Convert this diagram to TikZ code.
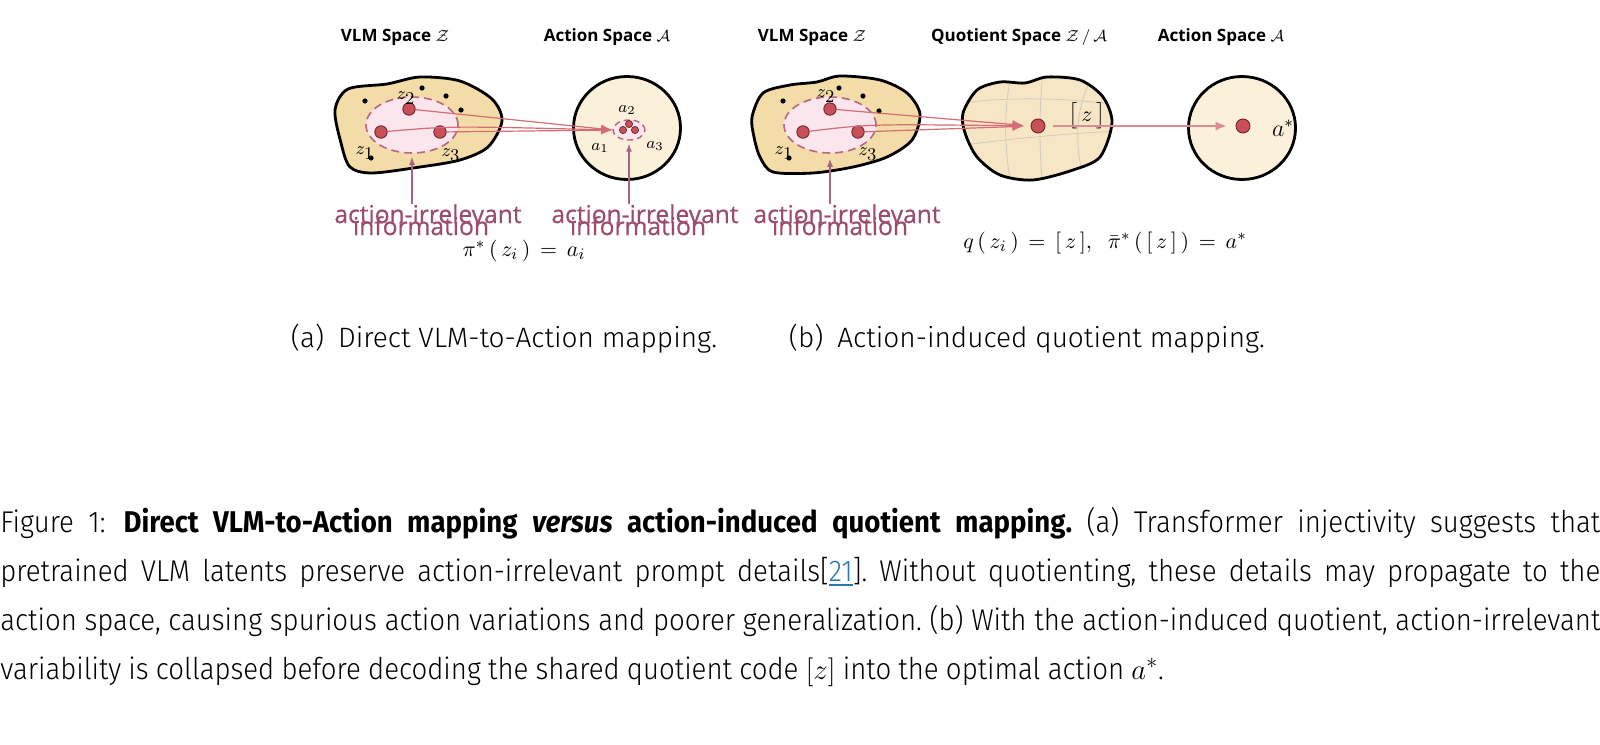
\documentclass[tikz,border=0pt]{standalone}
\usepackage[no-math]{fontspec}
\setmainfont{Fira Sans}[UprightFont=* Light, ItalicFont=* Light Italic, BoldFont=* Bold, BoldItalicFont=* Bold Italic]
\newfontfamily\capfont{Fira Sans}[UprightFont=* Light, ItalicFont=* Light Italic, BoldFont=* Bold, BoldItalicFont=* Bold Italic, FakeStretch=0.92]
\newfontfamily\osans{Open Sans}
\newfontfamily\osansm{Open Sans}[FakeBold=0.7]
\usepackage{amsmath}
\usetikzlibrary{arrows.meta,shapes.geometric}
\definecolor{blobA}{HTML}{F3DCA8}
\definecolor{cream}{HTML}{FBF0DA}
\definecolor{quot}{HTML}{F7E6C6}
\definecolor{pinkf}{HTML}{FCE6EE}
\definecolor{pinkd}{HTML}{B86683}
\definecolor{dotred}{HTML}{C94F58}
\definecolor{dotdark}{HTML}{6E2429}
\definecolor{arr}{HTML}{D46D75}
\definecolor{arrlight}{HTML}{DC8C92}
\definecolor{mauve}{HTML}{9C4C6C}
\definecolor{upc}{HTML}{A86581}
\definecolor{gridc}{HTML}{D2CABF}
\definecolor{linkc}{HTML}{2A77B0}
\tikzset{
  blob/.style={draw=black, line width=1.4pt, line join=round},
  rdot/.style={circle, fill=dotred, draw=dotdark, line width=0.45pt, minimum size=6.2pt, inner sep=0pt},
  sdot/.style={circle, fill=black, minimum size=2.6pt, inner sep=0pt},
  adot/.style={circle, fill=dotred, draw=dotdark, line width=0.35pt, minimum size=3.6pt, inner sep=0pt},
  pinkell/.style={ellipse, draw=pinkd, dash pattern=on 4pt off 2.5pt, line width=0.8pt, fill=pinkf, inner sep=0pt},
  spacecirc/.style={ellipse, draw=black, line width=1.4pt, fill=cream, inner sep=0pt},
  conn/.style={draw=arr, line width=0.6pt, -{Latex[length=5.5pt,width=4.5pt]}},
  uparr/.style={draw=upc, line width=0.6pt, -{Latex[length=4pt,width=3pt]}},
  irr/.style={text=mauve, font=\osansm\fontsize{12.3}{6}\selectfont, inner sep=0pt, anchor=base},
  title/.style={font=\osans\bfseries\fontsize{8.5}{10}\selectfont, anchor=base, inner sep=0pt},
  zlab/.style={font=\fontsize{9.5}{11}\selectfont, inner sep=0pt},
  alab/.style={font=\fontsize{8}{10}\selectfont, inner sep=0pt},
  formula/.style={font=\fontsize{11}{13}\selectfont, anchor=base, inner sep=0pt},
  subcap/.style={font=\fontsize{14}{16}\selectfont, anchor=base, inner sep=0pt},
}
\newcommand{\irrtext}{\parbox[t]{110pt}{\centering\lineskiplimit=-50pt action-irrelevant\\information\kern7pt}}
\begin{document}
\begin{tikzpicture}[x=0.5pt,y=-0.5pt]
\useasboundingbox (0,0) rectangle (1600,744);
% titles
\node[title] (tA1) at (395,41) {VLM Space $\mathcal{Z}$};
\node[title] (tA2) at (607,41) {Action Space $\mathcal{A}$};
\node[title] (tB1) at (812,41) {VLM Space $\mathcal{Z}$};
\node[title] (tB2) at (1019,41) {Quotient Space $\mathcal{Z}\,/\,\mathcal{A}$};
\node[title] (tB3) at (1221,41) {Action Space $\mathcal{A}$};
% ---------- part (a)
\filldraw[blob, fill=blobA] plot[smooth cycle] coordinates {(335,110) (348,89) (387,84) (420,77) (460,81) (492,99) (502,121) (488,147) (460,160) (420,167) (372,173) (350,167) (341,143)};
\node[pinkell, minimum width=46pt, minimum height=28pt] (pinkA) at (412,125) {};
\node[sdot] (dA1) at (365,101) {};
\node[sdot] (dA2) at (422,88) {};
\node[sdot] (dA3) at (446,96) {};
\node[sdot] (dA4) at (461,110) {};
\node[sdot] (dA5) at (371,158) {};
\node[rdot] (z2a) at (409,109) {};
\node[rdot] (z1a) at (381,132) {};
\node[rdot] (z3a) at (440,132) {};
\node[zlab] (lz2a) at (406,98) {$z_{\textstyle 2}$};
\node[zlab] (lz1a) at (365,153) {$z_{\textstyle 1}$};
\node[zlab] (lz3a) at (451,155) {$z_{\textstyle 3}$};
\node[spacecirc, minimum width=53.5pt, minimum height=51.5pt] (actA) at (627,128) {};
\node[pinkell, minimum width=16pt, minimum height=10pt, dash pattern=on 3pt off 2pt, line width=0.7pt] (smallA) at (629,130) {};
\node[adot] (a1) at (623,130) {};
\node[adot] (a2) at (629,124) {};
\node[adot] (a3) at (635,130) {};
\node[alab] (la2) at (627,110) {$a_2$};
\node[alab] (la1) at (600,148) {$a_1$};
\node[alab] (la3) at (655,146) {$a_3$};
\draw[conn] (z2a) -- (smallA.west);
\draw[conn] (z1a) .. controls (450,126) .. (smallA.west);
\draw[conn] (z3a) -- (smallA.west);
\node[irr] (irrA) at (428,223) {\irrtext};
\node[irr] (irrA2) at (645,223) {\irrtext};
\draw[uparr] (irrA.north -| pinkA.south) -- ([yshift=-1.5pt]pinkA.south);
\draw[uparr] (irrA2.north -| smallA.south) -- ([yshift=-1.5pt]smallA.south);
\node[formula] (piA) at (524,256) {$\pi^{*}\,(\,z_i\,)\,=\,a_i$};
% ---------- part (b)
\filldraw[blob, fill=blobA] plot[smooth cycle] coordinates {(752,117) (763,93) (790,85) (817,82) (840,76) (880,80) (907,93) (920,114) (912,140) (887,157) (853,167) (813,173) (773,172) (760,157) (754,137)};
\node[pinkell, minimum width=46pt, minimum height=28pt] (pinkB) at (830,125) {};
\node[sdot] (dB1) at (783,101) {};
\node[sdot] (dB2) at (839,88) {};
\node[sdot] (dB3) at (863,96) {};
\node[sdot] (dB4) at (879,111) {};
\node[sdot] (dB5) at (789,158) {};
\node[rdot] (z2b) at (830,109) {};
\node[rdot] (z1b) at (803,132) {};
\node[rdot] (z3b) at (858,132) {};
\node[zlab] (lz2b) at (826,96) {$z_{\textstyle 2}$};
\node[zlab] (lz1b) at (784,153) {$z_{\textstyle 1}$};
\node[zlab] (lz3b) at (868,154) {$z_{\textstyle 3}$};
% quotient blob
\fill[quot] plot[smooth cycle] coordinates {(963,113) (977,90) (1000,82) (1025,83) (1047,77) (1080,80) (1103,97) (1112,123) (1100,157) (1073,170) (1033,180) (1000,175) (977,157) (965,133)};
\begin{scope}
\clip plot[smooth cycle] coordinates {(963,113) (977,90) (1000,82) (1025,83) (1047,77) (1080,80) (1103,97) (1112,123) (1100,157) (1073,170) (1033,180) (1000,175) (977,157) (965,133)};
\draw[gridc, line width=0.4pt] (955,104) .. controls (1000,97) and (1060,97) .. (1120,105);
\draw[gridc, line width=0.4pt] (955,146) .. controls (1010,139) and (1070,133) .. (1120,131);
\draw[gridc, line width=0.4pt] (1012,70) .. controls (1003,110) and (1004,150) .. (1012,190);
\draw[gridc, line width=0.4pt] (1043,70) .. controls (1039,110) and (1039,150) .. (1043,190);
\draw[gridc, line width=0.4pt] (1092,78) .. controls (1074,110) and (1074,150) .. (1086,185);
\end{scope}
\draw[blob] plot[smooth cycle] coordinates {(963,113) (977,90) (1000,82) (1025,83) (1047,77) (1080,80) (1103,97) (1112,123) (1100,157) (1073,170) (1033,180) (1000,175) (977,157) (965,133)};
\node[rdot, minimum size=7pt] (zq) at (1038,126) {};
\node[font=\fontsize{11}{13}\selectfont, inner sep=0pt] (lzq) at (1087,116) {$\big[\,z\,\big]$};
\node[spacecirc, minimum width=53.5pt, minimum height=51.5pt] (actB) at (1242,128) {};
\node[rdot, minimum size=7pt] (astar) at (1243,126) {};
\node[font=\fontsize{12}{14}\selectfont, inner sep=0pt] (lastar) at (1283,128) {$a^{*}$};
\draw[conn, shorten >=3.5pt] (z2b) -- (zq.west);
\draw[conn, shorten >=3.5pt] (z1b) .. controls (870,124) .. (zq.west);
\draw[conn, shorten >=3.5pt] (z3b) -- (zq.west);
\draw[conn, draw=arrlight, shorten <=4pt, shorten >=4.5pt] (zq.east) -- (astar.west);
\node[irr] (irrB) at (847,223) {\irrtext};
\draw[uparr] (irrB.north -| pinkB.south) -- ([yshift=-2.5pt]pinkB.south);
\node[formula] (piB) at (1105,248) {$q\,(\,z_i\,)\,=\,[\,z\,],\;\;\bar{\pi}^{*}\,(\,[\,z\,]\,)\,=\,a^{*}$};
% sub-captions
\node[subcap] (capA) at (504,347) {(a)\enspace Direct VLM-to-Action mapping.};
\node[subcap] (capB) at (1027,347) {(b)\enspace Action-induced quotient mapping.};
% main caption
\node[anchor=base west, inner sep=0pt] (cap) at (0,532) {\parbox[t]{800pt}{\capfont\fontsize{15}{24.5}\selectfont\frenchspacing\spaceskip=0.24em plus 0.3em minus 0.1em\hyphenpenalty=10000\exhyphenpenalty=10000\noindent
Figure 1:\hspace{0.6em}\textbf{Direct VLM-to-Action mapping \textit{versus} action-induced quotient mapping.} (a) Transformer injectivity suggests that\linebreak
pretrained VLM latents preserve action-irrelevant prompt details[\textcolor{linkc}{\underline{21}}]. Without quotienting, these details may propagate to the\linebreak
action space, causing spurious action variations and poorer generalization. (b) With the action-induced quotient, action-irrelevant\linebreak
variability is collapsed before decoding the shared quotient code $[z]$ into the optimal action $a^{*}$.}};
\end{tikzpicture}
\end{document}
